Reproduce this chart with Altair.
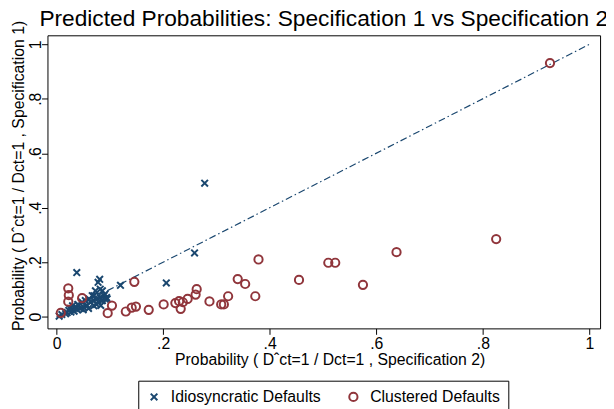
import altair as alt
import pandas as pd

NAVY = "#1a476f"
MAROON = "#90353b"

idio_x = [0.278, 0.259, 0.206, 0.120, 0.081, 0.078, 0.038, 0.073, 0.086, 0.070,
          0.089, 0.086, 0.083, 0.095, 0.091, 0.082, 0.094,
          0.005, 0.010, 0.017, 0.020, 0.023, 0.027, 0.030, 0.033, 0.036, 0.039,
          0.042, 0.045, 0.048, 0.051, 0.054, 0.057, 0.061, 0.064, 0.067, 0.070,
          0.076, 0.079, 0.082, 0.085, 0.091, 0.060, 0.050, 0.040, 0.070, 0.075,
          0.030, 0.025]
idio_y = [0.490, 0.234, 0.124, 0.115, 0.137, 0.126, 0.162, 0.095, 0.095, 0.077,
          0.077, 0.059, 0.041, 0.065, 0.083, 0.101, 0.070,
          0.002, 0.008, 0.011, 0.015, 0.023, 0.017, 0.029, 0.020, 0.035, 0.025,
          0.041, 0.030, 0.053, 0.035, 0.059, 0.041, 0.065, 0.053, 0.077, 0.059,
          0.068, 0.053, 0.071, 0.059, 0.065, 0.030, 0.025, 0.045, 0.040, 0.045,
          0.040, 0.030]

clust_x = [0.926, 0.825, 0.638, 0.575, 0.523, 0.510, 0.455, 0.379, 0.373, 0.354,
           0.340, 0.322, 0.314, 0.309, 0.287, 0.263, 0.261, 0.246, 0.237, 0.230,
           0.233, 0.223, 0.201, 0.173, 0.149, 0.141, 0.130, 0.146, 0.104, 0.096,
           0.048, 0.022, 0.023, 0.022, 0.008]
clust_y = [0.931, 0.285, 0.237, 0.117, 0.198, 0.198, 0.135, 0.210, 0.075, 0.120,
           0.138, 0.075, 0.045, 0.045, 0.056, 0.101, 0.081, 0.065, 0.053, 0.057,
           0.029, 0.050, 0.045, 0.025, 0.037, 0.033, 0.019, 0.128, 0.041, 0.013,
           0.068, 0.104, 0.079, 0.055, 0.014]

groups = ["Idiosyncratic Defaults", "Clustered Defaults"]
ticks = [0, 0.2, 0.4, 0.6, 0.8, 1]
line_x = [0, 1]
line_y = [0, 1]

pts = pd.concat([
    pd.DataFrame({"x": idio_x, "y": idio_y, "g": groups[0]}),
    pd.DataFrame({"x": clust_x, "y": clust_y, "g": groups[1]}),
], ignore_index=True)
line = pd.DataFrame({"x": line_x, "y": line_y})

label_expr = ("datum.value == 0 || datum.value == 1 ? format(datum.value, 'd') : "
              "substring(format(datum.value, '.1f'), 1)")

xscale = alt.Scale(domain=[-0.017, 1.02], nice=False, zero=False)
yscale = alt.Scale(domain=[-0.043, 1.033], nice=False, zero=False)

xaxis = alt.Axis(values=ticks, labelExpr=label_expr, grid=False, domain=False,
                 tickSize=6, tickColor="black", labelPadding=1,
                 title="Probability ( Dˆct=1 / Dct=1 , Specification 2)",
                 titleX=286, titleY=37, titleBaseline="alphabetic", titleAlign="center")
yaxis = alt.Axis(values=ticks, labelExpr=label_expr, grid=False, domain=False,
                 tickSize=6, tickColor="black", labelAngle=270, labelAlign="center",
                 labelBaseline="alphabetic", labelPadding=1,
                 title="Probability ( Dˆct=1 / Dct=1 , Specification 1)",
                 titleX=-24, titleY=142, titleAngle=270, titleBaseline="alphabetic",
                 titleAlign="center")

xpath = "M-0.8,-0.8L0.8,0.8M-0.8,0.8L0.8,-0.8"

base_line = alt.Chart(line).mark_line(
    color=NAVY, strokeWidth=1.2, strokeDash=[7, 3, 1.5, 3]
).encode(
    x=alt.X("x:Q", scale=xscale, axis=xaxis),
    y=alt.Y("y:Q", scale=yscale, axis=yaxis),
)

leg = alt.Legend(title=None, orient="none", legendX=92, legendY=350,
                 direction="horizontal", strokeColor="black",
                 padding=8, labelFontSize=16, symbolSize=70,
                 symbolStrokeWidth=2, labelLimit=300,
                 columnPadding=23, labelOffset=9,
                 fillColor="white")

points = alt.Chart(pts).mark_point(filled=False, strokeWidth=2, size=70, opacity=1).encode(
    x=alt.X("x:Q", scale=xscale, axis=xaxis),
    y=alt.Y("y:Q", scale=yscale, axis=yaxis),
    color=alt.Color("g:N", scale=alt.Scale(domain=groups, range=[NAVY, MAROON]), legend=leg),
    shape=alt.Shape("g:N", scale=alt.Scale(domain=groups, range=[xpath, "circle"]), legend=leg),
)

chart = alt.layer(base_line, points).properties(
    width=560, height=297,
    autosize=alt.AutoSizeParams(type="none"),
    padding={"left": 40, "top": 25, "right": 6, "bottom": 79},
    title=alt.Title("Predicted Probabilities: Specification 1 vs Specification 2",
                    fontSize=23, fontWeight="normal", color="black", offset=3,
                    dy=14, frame="group", font="Liberation Sans"),
).configure(
    font="Liberation Sans",
).configure_view(
    stroke="black", strokeWidth=1,
).configure_axis(
    labelFontSize=16, titleFontSize=16, labelColor="black", titleColor="black",
    titleFontWeight="normal", labelFont="Liberation Sans", titleFont="Liberation Sans",
).configure_legend(
    labelColor="black", labelFont="Liberation Sans",
)

chart.save("out.html", embed_options={"renderer": "svg", "actions": False})
